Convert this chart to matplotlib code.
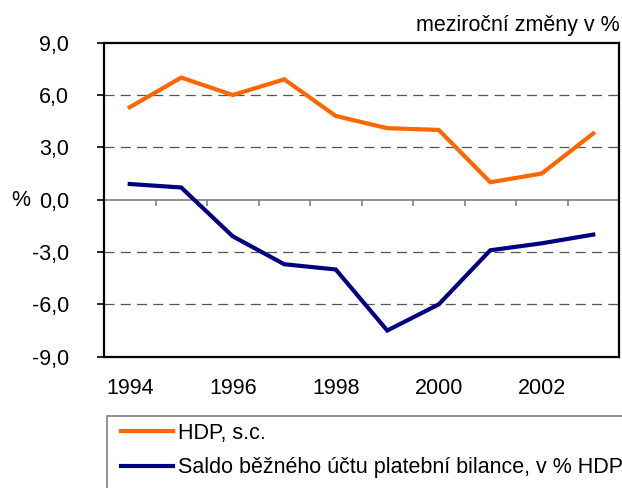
import matplotlib
matplotlib.use("Agg")
import matplotlib.pyplot as plt
from matplotlib.lines import Line2D
from matplotlib.patches import Rectangle
from matplotlib.legend_handler import HandlerLine2D
import numpy as np

plt.rcParams['font.family'] = ['Liberation Sans', 'DejaVu Sans']

years = [1994, 1995, 1996, 1997, 1998, 1999, 2000, 2001, 2002, 2003]
hdp = [5.3, 7.0, 6.0, 6.9, 4.8, 4.1, 4.0, 1.0, 1.5, 3.8]
saldo = [0.9, 0.7, -2.1, -3.7, -4.0, -7.5, -6.0, -2.9, -2.5, -2.0]
yticks = [-9, -6, -3, 0, 3, 6, 9]
ytick_labels = ['-9,0', '-6,0', '-3,0', '0,0', '3,0', '6,0', '9,0']
label_hdp = 'HDP, s.c.'
label_saldo = 'Saldo běžného účtu platební bilance, v % HDP'
title = 'meziroční změny v %'

FS = 15.5
W, H = 622, 488

fig = plt.figure(figsize=(6.22, 4.88), dpi=100)
ax = fig.add_axes([104/W, 1-356.7/H, (619-104)/W, (356.7-42.7)/H])

x = np.arange(len(years))
l1, = ax.plot(x, hdp, color='#FF6600', lw=3.0, solid_joinstyle='miter', label=label_hdp)
l2, = ax.plot(x, saldo, color='#000080', lw=3.0, solid_joinstyle='miter', label=label_saldo)

ax.set_xlim(-0.5, len(years) - 0.5)
ax.set_ylim(-9, 9)

for g in [-6, -3, 3, 6]:
    ax.axhline(g, color='#555555', lw=0.9, ls=(0, (8, 5)), zorder=0)
ax.axhline(0, color='#808080', lw=1.2, zorder=1)
bounds = np.arange(0.5, len(years) - 1, 1.0)
ax.vlines(bounds, -0.38, 0, color='#808080', lw=1.2, zorder=1)

ax.set_yticks(yticks)
ax.set_yticklabels(ytick_labels, fontsize=FS)
ax.tick_params(axis='y', direction='out', length=5, width=1.2, pad=20, colors='black')

ax.set_xticks(x[::2])
ax.set_xticklabels([str(y) for y in years[::2]], fontsize=FS)
ax.tick_params(axis='x', length=0, pad=15)

for s in ax.spines.values():
    s.set_color('black')
    s.set_linewidth(1.6)

fig.text(21/W, 1-200.7/H, '%', fontsize=FS, ha='center', va='center')
fig.text(620/W, 1-31/H, title, fontsize=FS, ha='right', va='baseline')

# legend frame extending past the figure edges, as in the reference
fig.patches.append(Rectangle((107/W, 1-500/H), (640-107)/W, (500-416)/H,
                             transform=fig.transFigure, fill=False,
                             edgecolor='#808080', lw=1.2))

hmap = {Line2D: HandlerLine2D(xpad=0.31)}
leg = fig.legend(handles=[l1, l2], loc='upper left',
                 bbox_to_anchor=(107/W, 1-416/H),
                 fontsize=FS, handlelength=2.76, handletextpad=0.24,
                 labelspacing=0.62, borderpad=0.32, borderaxespad=0,
                 frameon=False, handler_map=hmap)

fig.savefig('out.png', dpi=100)
